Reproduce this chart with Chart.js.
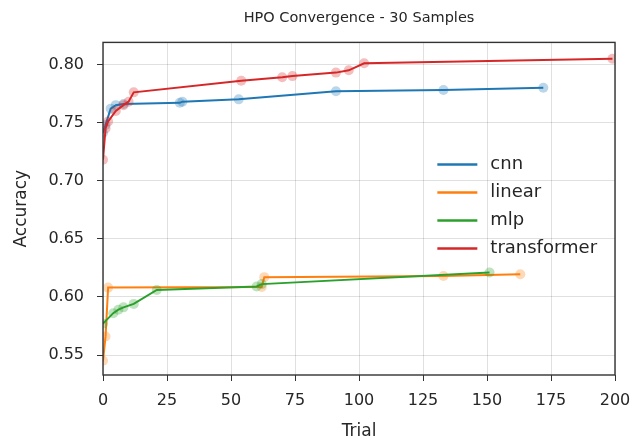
<!DOCTYPE html>
<html>
<head>
<meta charset="utf-8">
<script src="https://cdn.jsdelivr.net/npm/chart.js@4.4.1/dist/chart.umd.min.js"></script>
<style>
  html, body { margin: 0; padding: 0; background: #fff; }
  #wrap { width: 633px; height: 444px; position: relative; }
</style>
</head>
<body>
<div id="wrap"><canvas id="chart"></canvas></div>
<script>
const seriesNames = ['cnn', 'linear', 'mlp', 'transformer'];
const seriesColors = ['#1f77b4', '#ff7f0e', '#2ca02c', '#d62728'];

const cnnTrials = [0, 1, 3, 5, 8, 30, 31, 53, 91, 133, 172];
const cnnAcc = [0.741, 0.748, 0.762, 0.765, 0.766, 0.767, 0.768, 0.770, 0.777, 0.778, 0.780];

const linearTrials = [0, 1, 2, 62, 63, 133, 163];
const linearAcc = [0.545, 0.566, 0.608, 0.6085, 0.617, 0.618, 0.6195];

const mlpTrials = [0, 4, 6, 8, 12, 21, 60, 62, 151];
const mlpAcc = [0.577, 0.586, 0.589, 0.591, 0.594, 0.606, 0.609, 0.611, 0.621];

const transformerTrials = [0, 1, 2, 5, 8, 10, 12, 54, 70, 74, 91, 96, 102, 199];
const transformerAcc = [0.718, 0.745, 0.751, 0.760, 0.765, 0.768, 0.776, 0.786, 0.789, 0.790, 0.793, 0.795, 0.801, 0.805];

const xTicks = [0, 25, 50, 75, 100, 125, 150, 175, 200];
const yTicks = [0.55, 0.60, 0.65, 0.70, 0.75, 0.80];

const FONT = "'DejaVu Sans', sans-serif";
const TEXT = '#262626';

const trials = [cnnTrials, linearTrials, mlpTrials, transformerTrials];
const accs = [cnnAcc, linearAcc, mlpAcc, transformerAcc];

function alpha(hex, a) {
  const n = parseInt(hex.slice(1), 16);
  return `rgba(${(n >> 16) & 255}, ${(n >> 8) & 255}, ${n & 255}, ${a})`;
}

const datasets = seriesNames.map((name, i) => ({
  label: name,
  data: trials[i].map((t, k) => ({ x: t, y: accs[i][k] })),
  borderColor: seriesColors[i],
  borderWidth: 2,
  tension: 0,
  pointRadius: 5,
  pointBorderWidth: 0,
  pointBackgroundColor: alpha(seriesColors[i], 0.3),
  order: seriesNames.length - i,
}));

// matplotlib-like frame round the plot area
const framePlugin = {
  id: 'frame',
  afterDatasetsDraw(chart) {
    const { ctx, chartArea: a } = chart;
    ctx.save();
    ctx.strokeStyle = '#333';
    ctx.lineWidth = 1.4;
    ctx.strokeRect(a.left, a.top, a.right - a.left, a.bottom - a.top);
    ctx.restore();
  },
};

// frameless legend inside the axes, right-middle
const legendPlugin = {
  id: 'innerLegend',
  afterDraw(chart) {
    const { ctx, chartArea: a } = chart;
    const x0 = a.left + (a.right - a.left) * 0.653;
    const y0 = a.top + 122;
    ctx.save();
    ctx.font = `18px ${FONT}`;
    ctx.textBaseline = 'middle';
    ctx.fillStyle = TEXT;
    seriesNames.forEach((name, i) => {
      const y = y0 + i * 28;
      ctx.strokeStyle = seriesColors[i];
      ctx.lineWidth = 2.5;
      ctx.beginPath();
      ctx.moveTo(x0, y);
      ctx.lineTo(x0 + 40, y);
      ctx.stroke();
      ctx.fillText(name, x0 + 53, y);
    });
    ctx.restore();
  },
};

new Chart(document.getElementById('chart'), {
  type: 'line',
  data: { datasets },
  plugins: [framePlugin, legendPlugin],
  options: {
    responsive: true,
    maintainAspectRatio: false,
    animation: false,
    layout: { padding: { left: 0, right: 18, top: 0, bottom: 0 } },
    plugins: {
      legend: { display: false },
      tooltip: { enabled: false },
      title: {
        display: true,
        fullSize: false,
        text: 'HPO Convergence - 30 Samples',
        color: TEXT,
        font: { family: FONT, size: 14.5, weight: 'normal' },
        padding: { top: 10, bottom: 15 },
      },
    },
    scales: {
      x: {
        type: 'linear',
        min: 0,
        max: 200,
        afterBuildTicks: (scale) => { scale.ticks = xTicks.map((v) => ({ value: v })); },
        afterFit: (scale) => {
          scale.height = 69;
          scale.paddingLeft = 0;
          scale.paddingRight = 0;
        },
        grid: { color: 'rgba(0,0,0,0.12)', tickColor: '#333', tickLength: 6, drawTicks: true },
        border: { display: false },
        ticks: { color: TEXT, font: { family: FONT, size: 16 }, padding: 10, maxRotation: 0 },
        title: { display: true, text: 'Trial', color: TEXT, font: { family: FONT, size: 17 }, padding: { top: 2, bottom: 2 } },
      },
      y: {
        type: 'linear',
        min: 0.5328,
        max: 0.819,
        afterBuildTicks: (scale) => { scale.ticks = yTicks.map((v) => ({ value: v })); },
        afterFit: (scale) => {
          scale.width = 103;
          scale.paddingTop = 0;
          scale.paddingBottom = 0;
        },
        grid: { color: 'rgba(0,0,0,0.12)', tickColor: '#333', tickLength: 6, drawTicks: true },
        border: { display: false },
        ticks: { color: TEXT, font: { family: FONT, size: 16 }, padding: 13, callback: (v) => v.toFixed(2) },
        title: { display: true, text: 'Accuracy', color: TEXT, font: { family: FONT, size: 17 }, padding: { top: 11, bottom: 4 } },
      },
    },
  },
});
</script>
</body>
</html>
